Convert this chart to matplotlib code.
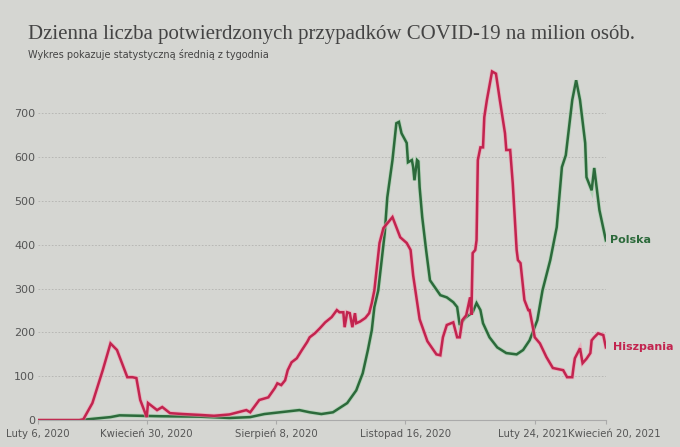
import pandas as pd
import matplotlib.pyplot as plt
import matplotlib.patheffects as pe
import matplotlib.transforms as mtransforms

start = pd.Timestamp('2020-02-06')

# days since Feb 6 2020 / 7-day average cases per million
es_days = [0, 32, 35, 42, 50, 56, 61, 69, 73, 76, 79, 84, 85, 92, 96, 102, 112, 125, 136, 148,
           161, 164, 171, 178, 183, 185, 188, 191, 193, 196, 200, 204, 208, 210, 214, 218,
           222, 227, 231, 233, 236, 237, 239, 241, 243, 245, 246, 249, 253, 256, 258, 260,
           264, 267, 274, 277, 280, 285, 288, 290, 295, 301, 308, 311, 313, 316, 321, 324,
           326, 328, 331, 334, 335, 336, 338, 339, 340, 342, 344, 345, 347, 351, 354, 357,
           361, 362, 365, 367, 370, 371, 373, 376, 379, 380, 384, 388, 393, 398, 406, 409,
           413, 414, 415, 419, 421, 424, 427, 428, 430, 433, 437, 439]
es_vals = [0, 0, 2, 39, 114, 175, 160, 98, 98, 96, 46, 7, 39, 23, 30, 16, 14, 12, 10, 13,
           23, 18, 46, 52, 73, 84, 80, 91, 114, 132, 141, 160, 178, 189, 198, 210,
           223, 235, 251, 246, 246, 212, 246, 244, 212, 244, 221, 225, 233, 244, 267, 296,
           404, 438, 463, 440, 417, 404, 388, 330, 230, 180, 150, 148, 189, 217, 223, 189,
           189, 228, 239, 280, 240, 381, 388, 410, 593, 622, 622, 691, 730, 795, 790, 730,
           654, 616, 616, 540, 388, 365, 358, 274, 251, 251, 189, 175, 144, 119, 114, 98,
           98, 121, 141, 164, 130, 140, 153, 182, 189, 198, 194, 166]

pl_days = [0, 32, 42, 56, 63, 94, 125, 148, 164, 175, 187, 202, 210, 219, 228, 239, 246,
           251, 255, 258, 260, 263, 268, 270, 274, 277, 279, 281, 285, 286, 289, 290, 291,
           293, 294, 295, 297, 300, 303, 311, 316, 321, 324, 326, 330, 336, 339, 342, 344,
           349, 355, 362, 370, 375, 380, 386, 390, 396, 401, 405, 408, 413, 416, 419, 423,
           424, 428, 430, 434, 439]
pl_vals = [0, 0, 3, 7, 11, 9, 8, 5, 7, 14, 18, 23, 18, 14, 18, 39, 68,
           107, 160, 205, 258, 296, 426, 508, 593, 677, 680, 654, 632, 588, 593, 577, 547,
           593, 590, 531, 463, 388, 319, 285, 280, 269, 258, 217, 233, 246, 267, 251, 221,
           189, 166, 153, 150, 160, 182, 228, 296, 365, 440, 577, 604, 730, 775, 730, 632,
           554, 524, 575, 479, 410]

tick_dates = ['2020-02-06', '2020-04-30', '2020-08-08', '2020-11-16', '2021-02-24', '2021-04-20']
tick_labels = ['Luty 6, 2020', 'Kwiecień 30, 2020', 'Sierpień 8, 2020',
               'Listopad 16, 2020', 'Luty 24, 2021', 'Kwiecień 20, 2021']
y_ticks = [0, 100, 200, 300, 400, 500, 600, 700]

es_x = start + pd.to_timedelta(es_days, unit='D')
pl_x = start + pd.to_timedelta(pl_days, unit='D')

bg = '#d5d6d2'
green = '#2c6a3b'
red = '#c2244f'

fig = plt.figure(figsize=(6.8, 4.47), dpi=100, facecolor=bg)
ax = fig.add_axes([0.056, 0.06, 0.835, 0.785], facecolor=bg)

ax.plot(pl_x, pl_vals, color=green, lw=1.8, solid_joinstyle='miter',
        path_effects=[pe.Stroke(linewidth=3.0, foreground='#9fd0a8', alpha=0.6), pe.Normal()])
ax.plot(es_x, es_vals, color=red, lw=1.8, solid_joinstyle='miter',
        path_effects=[pe.Stroke(linewidth=3.0, foreground='#f29bb0', alpha=0.6), pe.Normal()])

ax.annotate('Polska', (pl_x[-1], pl_vals[-1]), xytext=(3, 0), textcoords='offset points',
            color=green, fontsize=8, fontweight='bold', va='center', ha='left')
ax.annotate('Hiszpania', (es_x[-1], es_vals[-1]), xytext=(5, 0), textcoords='offset points',
            color=red, fontsize=8, fontweight='bold', va='center', ha='left')

ax.set_xlim(start, pd.Timestamp('2021-04-20'))
ax.set_ylim(0, 800)
ax.set_yticks(y_ticks)
ax.set_xticks(pd.to_datetime(tick_dates))
ax.set_xticklabels(tick_labels)
ax.tick_params(axis='y', length=0, pad=2, labelsize=8, labelcolor='#555555')
ax.tick_params(axis='x', length=3, color='#aaaaaa', pad=3, labelsize=7.3, labelcolor='#555555')
ax.yaxis.grid(True, color='#b3b3b0', linestyle=(0, (2, 2)), linewidth=0.6)
ax.set_axisbelow(True)
for s in ['top', 'right', 'left']:
    ax.spines[s].set_visible(False)
ax.spines['bottom'].set_color('#aaaaaa')
ax.spines['bottom'].set_linewidth(0.8)

# push the last two date labels apart a little, as in the original
xl = ax.get_xticklabels()
xl[-1].set_transform(xl[-1].get_transform() + mtransforms.ScaledTranslation(8 / 100, 0, fig.dpi_scale_trans))
xl[-2].set_transform(xl[-2].get_transform() + mtransforms.ScaledTranslation(-2 / 100, 0, fig.dpi_scale_trans))

fig.text(0.041, 0.922, 'Dzienna liczba potwierdzonych przypadków COVID-19 na milion osób.',
         family='Liberation Serif', fontsize=15, color='#444444', va='center')
fig.text(0.041, 0.877, 'Wykres pokazuje statystyczną średnią z tygodnia',
         fontsize=7, color='#444444', va='center')

fig.savefig('out.png', dpi=100, facecolor=bg)
